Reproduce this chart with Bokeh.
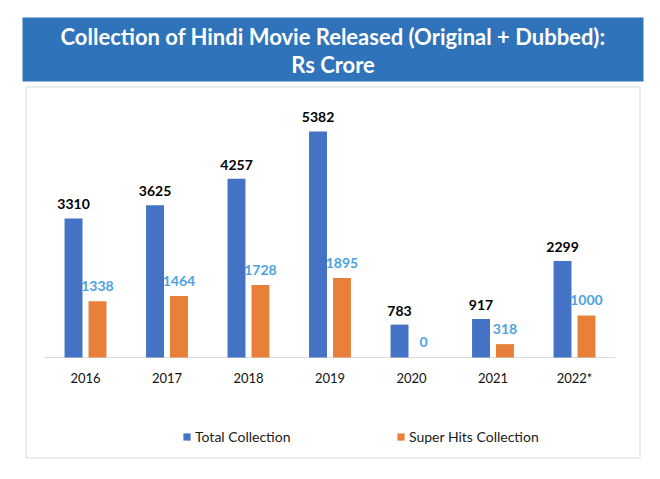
from bokeh.plotting import figure
from bokeh.models import ColumnDataSource, Range1d, Legend, LegendItem
from bokeh.transform import dodge
from bokeh.core.properties import value
from bokeh.embed import file_html
from bokeh.resources import INLINE

# ---- data ----
years = ["2016", "2017", "2018", "2019", "2020", "2021", "2022*"]
total = [3310, 3625, 4257, 5382, 783, 917, 2299]
super_hits = [1338, 1464, 1728, 1895, 0, 318, 1000]
series_names = ["Total Collection", "Super Hits Collection"]
title_lines = ["Collection of Hindi Movie Released (Original + Dubbed):", "Rs Crore"]

BLUE = "#4472C4"
ORANGE = "#E8803A"
LBL_BLUE = "#4BA3E3"
BANNER = "#2F73BA"
FONT = value("Lato")

src = ColumnDataSource(dict(
    idx=list(range(len(years))),
    year=years,
    total=total,
    superhits=super_hits,
    total_lbl=[str(v) for v in total],
    super_lbl=[str(v) for v in super_hits],
))

p = figure(
    width=644, height=463,
    x_range=Range1d(-1.043, 6.859),
    y_range=Range1d(-2524, 8500),
    x_axis_location=None, y_axis_location=None,
    output_backend="svg", toolbar_location=None,
    min_border=0,
)
p.grid.visible = False
p.outline_line_color = None
p.background_fill_color = "white"
p.border_fill_color = "white"

# canvas-pixel ranges for decorations
p.extra_x_ranges = {"px": Range1d(0, 644)}
p.extra_y_ranges = {"px": Range1d(463, 0)}

# banner
p.quad(left=22, right=643, top=17, bottom=81, x_range_name="px", y_range_name="px",
       fill_color=BANNER, line_color=None)
p.text(x=[332.5, 332.5], y=[36, 64], text=title_lines, x_range_name="px", y_range_name="px",
       text_font=FONT, text_font_style="bold", text_font_size="22px", text_color="white",
       text_align="center", text_baseline="middle")

# chart box
p.quad(left=25.5, right=639.5, top=86.5, bottom=457.5, x_range_name="px", y_range_name="px",
       fill_color=None, line_color="#D9D9D9", line_width=1)

# axis line
p.segment(x0=44, x1=615, y0=0, y1=0, x_range_name="px", line_color="#D9D9D9", line_width=1.2)

# bars
r1 = p.vbar(x=dodge("idx", -0.147), top="total", width=0.22, source=src,
            fill_color=BLUE, line_color=None)
r2 = p.vbar(x=dodge("idx", 0.147), top="superhits", width=0.22, source=src,
            fill_color=ORANGE, line_color=None)

# value labels
p.text(x=dodge("idx", -0.147), y="total", text="total_lbl", source=src,
       y_offset=-9, text_font=FONT, text_font_style="bold", text_font_size="14px",
       text_color="black", text_align="center", text_baseline="bottom")
p.text(x=dodge("idx", 0.147), y="superhits", text="super_lbl", source=src,
       y_offset=-10, text_font=FONT, text_font_style="bold", text_font_size="14px",
       text_color=LBL_BLUE, text_align="center", text_baseline="bottom")

# category labels
p.text(x="idx", y=0, text="year", source=src, y_offset=21,
       text_font=FONT, text_font_size="13px", text_color="#111111",
       text_align="center", text_baseline="middle")

# legends
for name, r, loc in [(series_names[0], r1, (182, 18)), (series_names[1], r2, (396, 18))]:
    leg = Legend(items=[LegendItem(label=name, renderers=[r])], location=loc,
                 orientation="horizontal", padding=0, margin=0,
                 border_line_color=None, background_fill_alpha=0,
                 glyph_width=9, glyph_height=9, label_standoff=4, label_height=16,
                 label_text_font="Lato", label_text_font_size="14px", label_text_color="#1a1a1a")
    p.add_layout(leg)

open("out.html", "w").write(file_html(p, INLINE))
